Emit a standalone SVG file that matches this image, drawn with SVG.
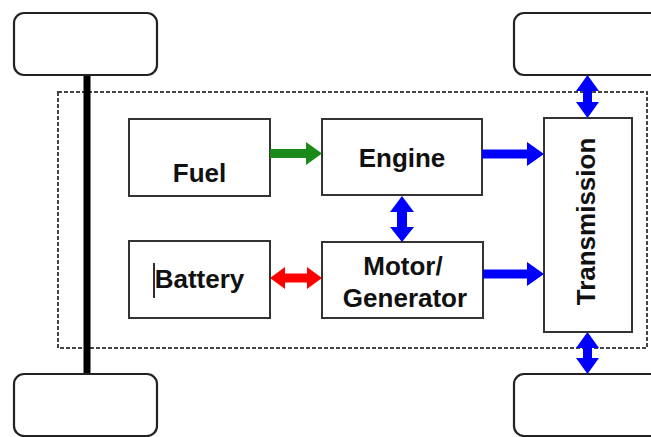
<svg xmlns="http://www.w3.org/2000/svg" width="651" height="437" viewBox="0 0 651 437">
<style>
.wheel{fill:#fff;stroke:#222;stroke-width:2.2}
.box{fill:#fff;stroke:#333;stroke-width:2}
.lbl{font-family:"Liberation Sans",Arial,sans-serif;font-weight:bold;font-size:26px;fill:#111;text-anchor:middle}
</style>
<rect width="651" height="437" fill="#fff"/>
<g id="frame">
<rect x="58" y="92" width="589" height="256" fill="none" stroke="#444" stroke-width="2" stroke-dasharray="4,2"/>
</g>
<g id="axle"><rect x="83.5" y="75" width="7" height="299" fill="#000"/></g>
<g id="wheel-tl"><rect class="wheel" x="14" y="13" width="143" height="62" rx="10"/></g>
<g id="wheel-bl"><rect class="wheel" x="14" y="374" width="143" height="62" rx="10"/></g>
<g id="wheel-tr"><rect class="wheel" x="514" y="13" width="160" height="62" rx="10"/></g>
<g id="wheel-br"><rect class="wheel" x="514" y="374" width="160" height="62" rx="10"/></g>
<g id="fuel"><rect class="box" x="129" y="119" width="141" height="77"/><text class="lbl" x="199.5" y="182">Fuel</text></g>
<g id="battery"><rect class="box" x="129" y="241" width="141" height="77"/><text class="lbl" x="199.5" y="288">Battery</text><line x1="154" y1="263" x2="154" y2="298" stroke="#3a2a2a" stroke-width="2"/></g>
<g id="engine"><rect class="box" x="322" y="119" width="160" height="76"/><text class="lbl" x="402" y="167">Engine</text></g>
<g id="motor"><rect class="box" x="322" y="242" width="161" height="76"/><text class="lbl" x="403" y="275">Motor/</text><text class="lbl" x="405" y="307">Generator</text></g>
<g id="transmission"><rect class="box" x="544" y="118" width="88" height="214"/><text class="lbl" transform="translate(595,221.5) rotate(-90)">Transmission</text></g>
<g id="connectors">
<polygon fill="#1a8a1a" points="270,149 306,149 306,142 322,153.5 306,165 306,158 270,158"/>
<polygon fill="#f00" points="270,278 285,267 285,273.5 307,273.5 307,267 322,278 307,289 307,282.5 285,282.5 285,289"/>
<polygon fill="#00f" points="482,149.5 527,149.5 527,142 544,154 527,166 527,158.5 482,158.5"/>
<polygon fill="#00f" points="483,269.5 527,269.5 527,262 544,274 527,286 527,278.5 483,278.5"/>
<polygon fill="#00f" points="402,196 414,212 407,212 407,227 414,227 402,242 390,227 397,227 397,212 390,212"/>
<polygon fill="#00f" points="587.5,75 599,91 592,91 592,102 599,102 587.5,118 576,102 583,102 583,91 576,91"/>
<polygon fill="#00f" points="587.5,332 599,348 592,348 592,358 599,358 587.5,374 576,358 583,358 583,348 576,348"/>
</g>
</svg>
